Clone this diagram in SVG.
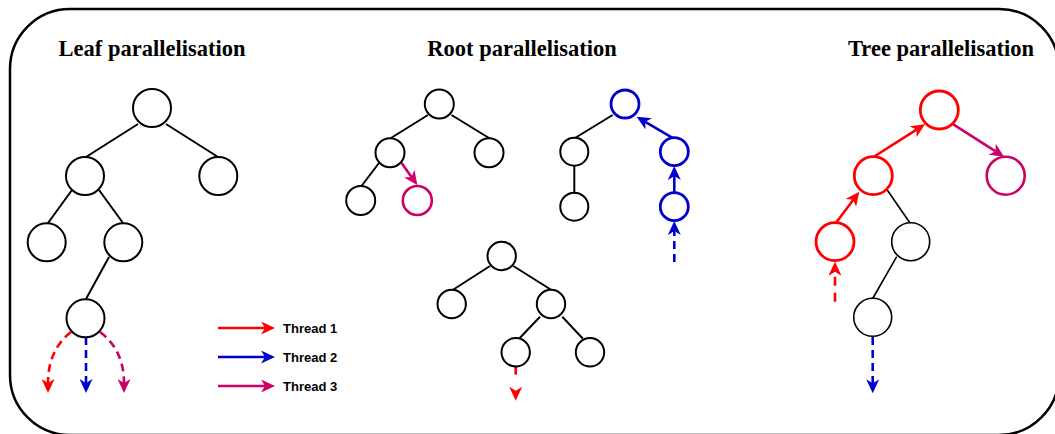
<svg xmlns="http://www.w3.org/2000/svg" width="1055" height="434" viewBox="0 0 1055 434">
  <style>
    .frame { fill: #ffffff; stroke: #000000; stroke-width: 2.5; }
    .title { font-family: "Liberation Serif", "Times New Roman", serif; font-weight: bold; font-size: 22.5px; fill: #000000; text-anchor: middle; }
    .legend { font-family: "Liberation Sans", Arial, sans-serif; font-weight: bold; font-size: 13px; fill: #000000; }
    .node { fill: #ffffff; stroke: #000000; stroke-width: 2; }
    .node-thin { fill: #ffffff; stroke: #000000; stroke-width: 1.6; }
    .node-red { fill: #ffffff; stroke: #ff0000; stroke-width: 2.8; }
    .node-blue { fill: #ffffff; stroke: #0000cc; stroke-width: 2.8; }
    .node-mag { fill: #ffffff; stroke: #cc0066; stroke-width: 2.6; }
    .edge { fill: none; stroke: #000000; stroke-width: 2; }
    .edge-thin { fill: none; stroke: #000000; stroke-width: 1.6; }
    .red { fill: none; stroke: #ff0000; stroke-width: 2.6; }
    .blue { fill: none; stroke: #0000cc; stroke-width: 2.6; }
    .mag { fill: none; stroke: #cc0066; stroke-width: 2.6; }
    .dash { stroke-dasharray: 8 5; }
  </style>
  <defs>
    <!-- classic notched arrowheads, anchored at the notch -->
    <marker id="arrow-red" viewBox="0 0 14 13" markerWidth="14" markerHeight="13" refX="4" refY="6.5" orient="auto" markerUnits="userSpaceOnUse">
      <path d="M0,0 L14,6.5 L0,13 L4,6.5 Z" fill="#ff0000"/>
    </marker>
    <marker id="arrow-blue" viewBox="0 0 14 13" markerWidth="14" markerHeight="13" refX="4" refY="6.5" orient="auto" markerUnits="userSpaceOnUse">
      <path d="M0,0 L14,6.5 L0,13 L4,6.5 Z" fill="#0000cc"/>
    </marker>
    <marker id="arrow-mag" viewBox="0 0 14 13" markerWidth="14" markerHeight="13" refX="4" refY="6.5" orient="auto" markerUnits="userSpaceOnUse">
      <path d="M0,0 L14,6.5 L0,13 L4,6.5 Z" fill="#cc0066"/>
    </marker>
  </defs>

  <!-- outer rounded frame -->
  <rect class="frame" x="10" y="9" width="1049" height="426" rx="60" ry="60"/>

  <!-- section titles -->
  <text class="title" x="152" y="56">Leaf parallelisation</text>
  <text class="title" x="522" y="56">Root parallelisation</text>
  <text class="title" x="941" y="56">Tree parallelisation</text>

  <!-- connectors -->
  <g id="connectors">
    <!-- leaf parallelisation tree -->
    <line class="edge" x1="138" y1="124" x2="86" y2="157"/>
    <line class="edge" x1="166" y1="124" x2="218" y2="157"/>
    <line class="edge" x1="72" y1="190" x2="48" y2="223"/>
    <line class="edge" x1="99" y1="190" x2="123" y2="223"/>
    <line class="edge" x1="109" y1="257" x2="86" y2="299"/>
    <path class="red dash" d="M71,332 Q48,350 48,383" marker-end="url(#arrow-red)"/>
    <path class="blue dash" d="M86,337 L86,383" marker-end="url(#arrow-blue)"/>
    <path class="mag dash" d="M100,332 Q124,350 124,383" marker-end="url(#arrow-mag)"/>

    <!-- legend arrows -->
    <line class="red" x1="218" y1="328" x2="265" y2="328" marker-end="url(#arrow-red)"/>
    <line class="blue" x1="218" y1="357" x2="265" y2="357" marker-end="url(#arrow-blue)"/>
    <line class="mag" x1="218" y1="386" x2="265" y2="386" marker-end="url(#arrow-mag)"/>

    <!-- root parallelisation, first tree -->
    <line class="edge" x1="428" y1="115" x2="391" y2="138"/>
    <line class="edge" x1="451.5" y1="115" x2="489" y2="138"/>
    <line class="edge" x1="379" y1="163" x2="361.5" y2="186"/>
    <line class="mag" x1="400.7" y1="161.7" x2="411.5" y2="176.9" marker-end="url(#arrow-mag)"/>

    <!-- root parallelisation, second tree -->
    <line class="edge" x1="612.7" y1="115" x2="575" y2="138"/>
    <line class="edge" x1="574.3" y1="166" x2="574.3" y2="192.5"/>
    <line class="blue" x1="673.3" y1="138.3" x2="645.3" y2="121.8" marker-end="url(#arrow-blue)"/>
    <line class="blue" x1="674.3" y1="192.5" x2="674.3" y2="176" marker-end="url(#arrow-blue)"/>
    <line class="blue dash" x1="674.3" y1="262" x2="674.3" y2="231" marker-end="url(#arrow-blue)"/>

    <!-- root parallelisation, third tree -->
    <line class="edge" x1="490" y1="266" x2="452.7" y2="290"/>
    <line class="edge" x1="513.3" y1="266" x2="551.5" y2="290"/>
    <line class="edge" x1="540" y1="316.7" x2="519.3" y2="338.5"/>
    <line class="edge" x1="562.3" y1="316.7" x2="582.7" y2="338.5"/>
    <line class="red" x1="515.7" y1="366.7" x2="515.7" y2="390.7" stroke-dasharray="8 16" marker-end="url(#arrow-red)"/>

    <!-- tree parallelisation -->
    <line class="red" x1="874.3" y1="156.5" x2="916.5" y2="129.6" marker-end="url(#arrow-red)"/>
    <line class="mag" x1="953.3" y1="124.3" x2="995.6" y2="151.3" marker-end="url(#arrow-mag)"/>
    <line class="red" x1="836" y1="222.7" x2="853.3" y2="199.7" marker-end="url(#arrow-red)"/>
    <line class="edge-thin" x1="886.7" y1="189.3" x2="910" y2="223"/>
    <line class="edge-thin" x1="896.7" y1="256.7" x2="872.7" y2="298.5"/>
    <line class="red" x1="835" y1="301.7" x2="835" y2="271.7" stroke-dasharray="9 7" marker-end="url(#arrow-red)"/>
    <line class="blue dash" x1="872.7" y1="337" x2="872.7" y2="383.3" marker-end="url(#arrow-blue)"/>
  </g>

  <!-- leaf parallelisation nodes -->
  <g id="leaf-root"><circle class="node" cx="152" cy="108" r="19"/></g>
  <g id="leaf-l"><circle class="node" cx="85" cy="176" r="19"/></g>
  <g id="leaf-r"><circle class="node" cx="218.3" cy="176" r="19"/></g>
  <g id="leaf-ll"><circle class="node" cx="46.7" cy="242.3" r="19"/></g>
  <g id="leaf-lr"><circle class="node" cx="123.3" cy="242.3" r="19"/></g>
  <g id="leaf-lrl"><circle class="node" cx="85.5" cy="318.3" r="19"/></g>

  <!-- legend -->
  <g id="legend">
    <text class="legend" x="283" y="333">Thread 1</text>
    <text class="legend" x="283" y="362">Thread 2</text>
    <text class="legend" x="283" y="391">Thread 3</text>
  </g>

  <!-- root parallelisation, first tree -->
  <g id="rp1-root"><circle class="node" cx="439.3" cy="104" r="14.5"/></g>
  <g id="rp1-l"><circle class="node" cx="390" cy="152.7" r="14.5"/></g>
  <g id="rp1-r"><circle class="node" cx="489" cy="152.7" r="14.5"/></g>
  <g id="rp1-ll"><circle class="node" cx="360.7" cy="200.5" r="14.5"/></g>
  <g id="rp1-lr"><circle class="node-mag" cx="417.3" cy="200.5" r="14.5"/></g>

  <!-- root parallelisation, second tree -->
  <g id="rp2-root"><circle class="node-blue" cx="625" cy="104" r="14"/></g>
  <g id="rp2-l"><circle class="node" cx="574.3" cy="151.7" r="14"/></g>
  <g id="rp2-r"><circle class="node-blue" cx="674.3" cy="151.7" r="14"/></g>
  <g id="rp2-ll"><circle class="node" cx="574.3" cy="206.7" r="14"/></g>
  <g id="rp2-rr"><circle class="node-blue" cx="674.3" cy="206.7" r="14"/></g>

  <!-- root parallelisation, third tree -->
  <g id="rp3-root"><circle class="node" cx="501.7" cy="256" r="14.2"/></g>
  <g id="rp3-l"><circle class="node" cx="451.7" cy="304" r="14.2"/></g>
  <g id="rp3-r"><circle class="node" cx="551" cy="304" r="14.2"/></g>
  <g id="rp3-rl"><circle class="node" cx="515.7" cy="352.3" r="14.2"/></g>
  <g id="rp3-rr"><circle class="node" cx="590" cy="352.3" r="14.2"/></g>

  <!-- tree parallelisation nodes -->
  <g id="tp-root"><circle class="node-red" cx="939.3" cy="110" r="19"/></g>
  <g id="tp-l"><circle class="node-red" cx="873.3" cy="175.7" r="19"/></g>
  <g id="tp-r"><circle class="node-mag" cx="1005.7" cy="175.7" r="19"/></g>
  <g id="tp-ll"><circle class="node-red" cx="835" cy="241.7" r="19"/></g>
  <g id="tp-lr"><circle class="node-thin" cx="910.7" cy="241.7" r="19"/></g>
  <g id="tp-lrl"><circle class="node-thin" cx="872.7" cy="317.3" r="19"/></g>
</svg>
